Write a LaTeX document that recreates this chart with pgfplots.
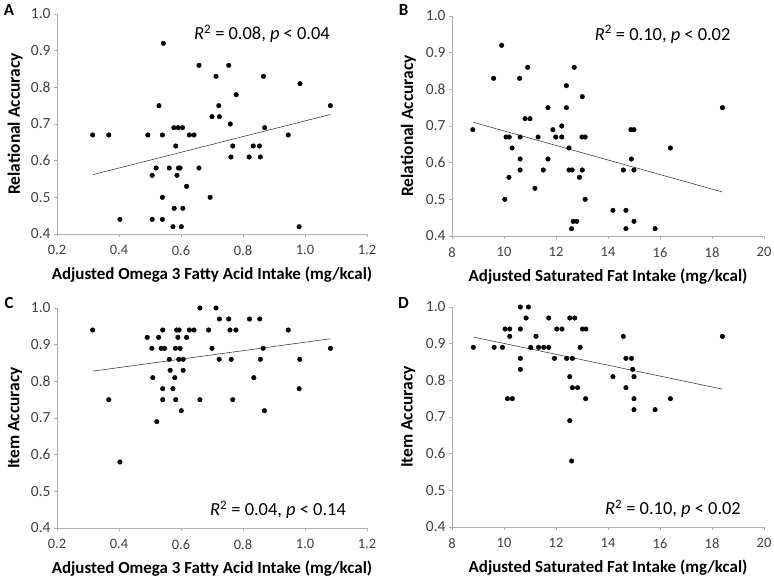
\documentclass[border=0pt]{standalone}
\usepackage{pgfplots}
\pgfplotsset{compat=1.18}
\usepackage{fontspec}
\setmainfont{Carlito}

\definecolor{axisgray}{RGB}{175,175,175}
\definecolor{ticktext}{RGB}{64,64,64}

\pgfplotsset{
  panel/.style={
    scale only axis, width=310bp, height=220bp,
    axis lines*=left,
    axis line style={draw=axisgray, line width=0.8pt},
    tick style={draw=axisgray, line width=0.8pt},
    tick align=outside, major tick length=3bp,
    ymin=0.4, ymax=1.0,
    ytick={0.4,0.5,0.6,0.7,0.8,0.9,1.0},
    /pgf/number format/assume math mode=true,
    yticklabel style={font=\fontsize{15.5}{18}\selectfont, text=ticktext,
      /pgf/number format/.cd, fixed, fixed zerofill, precision=1},
    xticklabel style={font=\fontsize{14.5}{17}\selectfont, text=ticktext, yshift=-5bp},
    every axis x label/.style={at={(axis description cs:0.5,-0.185)}, anchor=center,
      font=\bfseries\fontsize{17}{20}\selectfont},
    every axis y label/.style={at={(axis description cs:-0.135,0.5)}, anchor=center,
      rotate=90, font=\bfseries\fontsize{17.5}{20}\selectfont},
    clip=false,
  },
  omega/.style={panel, xmin=0.2, xmax=1.2,
    xtick={0.2,0.4,0.6,0.8,1.0,1.2},
    xticklabel style={/pgf/number format/.cd, fixed, fixed zerofill, precision=1},
    xlabel={Adjusted Omega 3 Fatty Acid Intake (mg/kcal)}},
  satfat/.style={panel, width=312bp, xmin=8, xmax=20,
    xtick={8,10,12,14,16,18,20},
    xticklabel style={/pgf/number format/.cd, fixed, precision=0},
    xlabel={Adjusted Saturated Fat Intake (mg/kcal)},
    every axis y label/.style={at={(axis description cs:-0.14,0.5)}, anchor=center,
      rotate=90, font=\bfseries\fontsize{17.5}{20}\selectfont}},
  pts/.style={only marks, mark=*, mark size=2.3bp, black},
  fit/.style={draw=black!75, line width=0.6pt, no marks},
}
\newcommand{\stat}[2]{\fontsize{18.5}{22}\selectfont\textit{R}\textsuperscript{2} = #1, \textit{p} < #2}

\begin{document}
\begin{tikzpicture}
\path[use as bounding box] (0,0) rectangle (774bp,579bp);

% A: relational accuracy vs omega 3
\begin{axis}[omega, at={(57bp,345bp)}, anchor=south west, ylabel={Relational Accuracy}]
\addplot[pts] coordinates {
(0.315,0.67) (0.367,0.67) (0.403,0.44) (0.493,0.67) (0.507,0.56) (0.507,0.44)
(0.520,0.58) (0.529,0.75) (0.540,0.67) (0.540,0.50) (0.540,0.44) (0.543,0.92)
(0.562,0.58) (0.574,0.42) (0.577,0.69) (0.578,0.47) (0.583,0.64) (0.587,0.56)
(0.591,0.69) (0.592,0.58) (0.597,0.58) (0.601,0.42) (0.605,0.69) (0.606,0.47)
(0.618,0.53) (0.627,0.67) (0.642,0.67) (0.658,0.86) (0.658,0.58) (0.694,0.50)
(0.700,0.72) (0.713,0.83) (0.722,0.75) (0.724,0.72) (0.754,0.86) (0.759,0.70)
(0.761,0.61) (0.767,0.64) (0.778,0.78) (0.820,0.61) (0.833,0.64) (0.853,0.64)
(0.856,0.61) (0.866,0.83) (0.870,0.69) (0.946,0.67) (0.981,0.42) (0.984,0.81)
(1.082,0.75)
};
\addplot[fit] coordinates {(0.316,0.562) (1.082,0.726)};
\node at (axis cs:0.861,0.945) {\stat{0.08}{0.04}};
\end{axis}

% B: relational accuracy vs saturated fat
\begin{axis}[satfat, at={(452bp,343bp)}, anchor=south west, ylabel={Relational Accuracy}]
\addplot[pts] coordinates {
(8.80,0.69) (9.60,0.83) (9.91,0.92) (10.03,0.50) (10.08,0.67) (10.20,0.67)
(10.19,0.56) (10.31,0.64) (10.60,0.83) (10.62,0.67) (10.62,0.61) (10.62,0.58)
(10.81,0.72) (10.91,0.86) (11.00,0.72) (11.19,0.53) (11.31,0.67) (11.51,0.58)
(11.69,0.75) (11.69,0.61) (11.88,0.69) (11.99,0.67) (12.22,0.70) (12.22,0.67)
(12.40,0.81) (12.40,0.75) (12.50,0.64) (12.50,0.58) (12.60,0.42) (12.62,0.58)
(12.66,0.44) (12.70,0.86) (12.80,0.44) (12.90,0.56) (13.01,0.78) (13.01,0.58)
(13.00,0.67) (13.12,0.67) (13.12,0.50) (14.19,0.47) (14.59,0.58) (14.69,0.47)
(14.69,0.42) (14.88,0.69) (14.90,0.61) (15.00,0.69) (15.00,0.58) (15.00,0.44)
(15.81,0.42) (16.40,0.64) (18.40,0.75)
};
\addplot[fit] coordinates {(8.82,0.710) (18.40,0.520)};
\node at (axis cs:16.1,0.95) {\stat{0.10}{0.02}};
\end{axis}

% C: item accuracy vs omega 3
\begin{axis}[omega, at={(57bp,51bp)}, anchor=south west, ylabel={Item Accuracy}]
\addplot[pts] coordinates {
(0.315,0.94) (0.367,0.75) (0.403,0.58) (0.491,0.92) (0.506,0.89) (0.509,0.81)
(0.522,0.69) (0.528,0.92) (0.536,0.89) (0.541,0.94) (0.541,0.78) (0.541,0.75)
(0.547,0.89) (0.562,0.86) (0.565,0.83) (0.574,0.78) (0.580,0.81) (0.582,0.89)
(0.583,0.75) (0.586,0.94) (0.590,0.92) (0.593,0.86) (0.594,0.94) (0.597,0.89)
(0.601,0.72) (0.607,0.86) (0.607,0.83) (0.618,0.92) (0.627,0.94) (0.642,0.94)
(0.661,1.00) (0.661,0.75) (0.689,0.94) (0.700,0.89) (0.713,1.00) (0.723,0.86)
(0.724,0.97) (0.754,0.97) (0.758,0.94) (0.762,0.86) (0.767,0.75) (0.777,0.94)
(0.821,0.97) (0.835,0.81) (0.854,0.97) (0.856,0.86) (0.865,0.89) (0.869,0.72)
(0.946,0.94) (0.981,0.78) (0.983,0.86) (1.082,0.89)
};
\addplot[fit] coordinates {(0.317,0.828) (1.081,0.916)};
\node at (axis cs:0.913,0.45) {\stat{0.04}{0.14}};
\end{axis}

% D: item accuracy vs saturated fat
\begin{axis}[satfat, at={(452bp,52bp)}, anchor=south west, ylabel={Item Accuracy}]
\addplot[pts] coordinates {
(8.82,0.89) (9.62,0.89) (9.94,0.89) (10.04,0.94) (10.22,0.94) (10.22,0.92)
(10.63,1.00) (10.94,1.00) (10.85,0.97) (10.63,0.94) (10.63,0.86) (10.63,0.83)
(10.13,0.75) (10.32,0.75) (11.03,0.89) (11.23,0.92) (11.33,0.89) (11.53,0.89)
(11.72,0.89) (11.72,0.97) (11.94,0.86) (12.03,0.94) (12.23,0.94) (12.41,0.86)
(12.63,0.86) (12.53,0.97) (12.72,0.97) (12.53,0.81) (12.63,0.78) (12.83,0.78)
(12.93,0.89) (13.02,0.94) (13.15,0.94) (13.14,0.75) (12.53,0.69) (12.60,0.58)
(14.19,0.81) (14.59,0.92) (14.69,0.86) (14.69,0.78) (14.90,0.86) (14.95,0.83)
(15.00,0.81) (15.00,0.75) (15.00,0.72) (15.81,0.72) (16.40,0.75) (18.40,0.92)
};
\addplot[fit] coordinates {(8.83,0.918) (18.40,0.776)};
\node at (axis cs:16.5,0.45) {\stat{0.10}{0.02}};
\end{axis}

\node[font=\bfseries\fontsize{17}{20}\selectfont] at (9bp,569bp) {A};
\node[font=\bfseries\fontsize{17}{20}\selectfont] at (403.5bp,569bp) {B};
\node[font=\bfseries\fontsize{17}{20}\selectfont] at (9bp,276bp) {C};
\node[font=\bfseries\fontsize{17}{20}\selectfont] at (403.5bp,276bp) {D};
\end{tikzpicture}
\end{document}
